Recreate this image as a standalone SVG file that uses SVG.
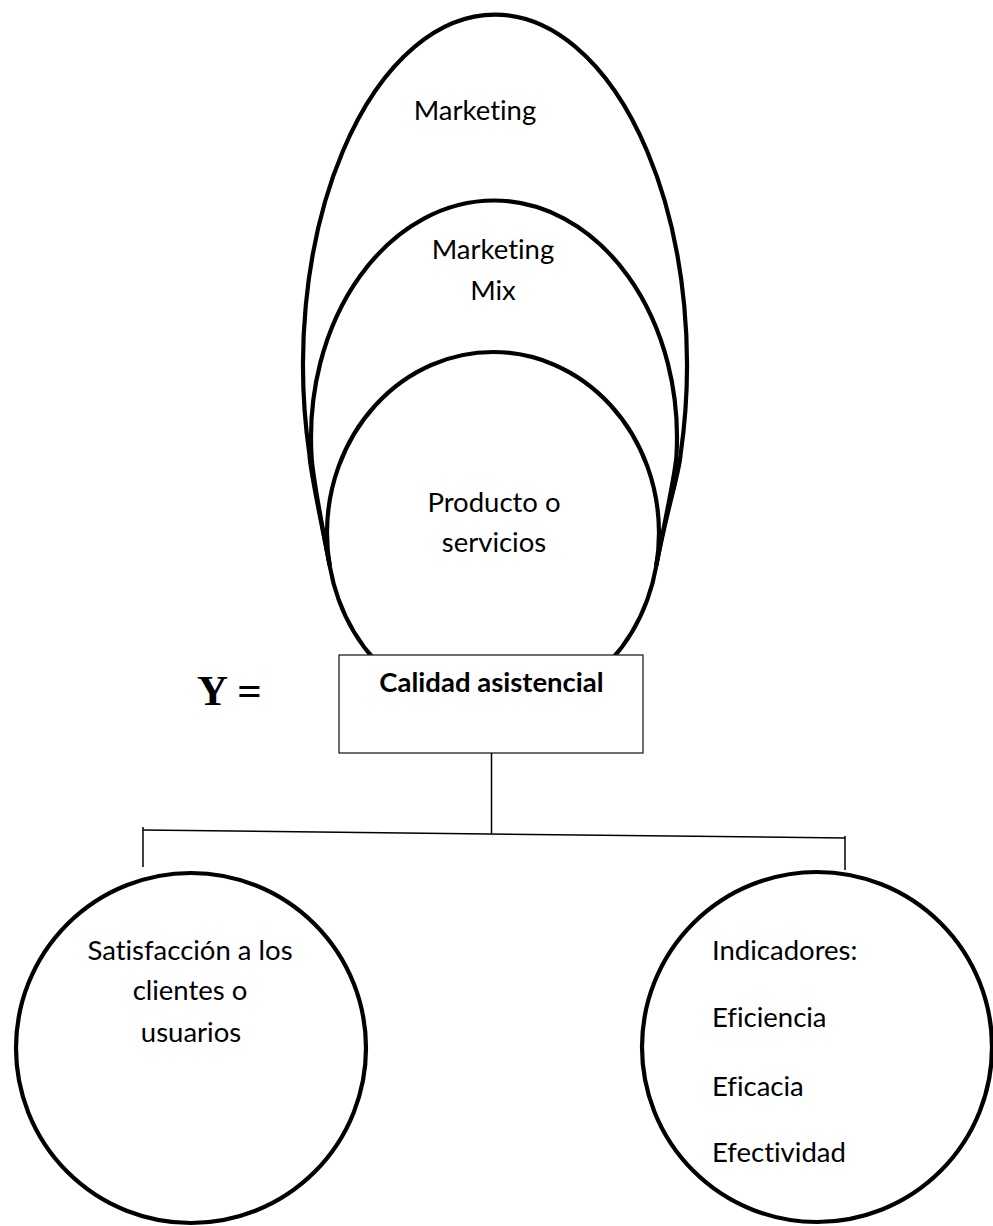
<svg xmlns="http://www.w3.org/2000/svg" width="993" height="1226" viewBox="0 0 993 1226">
<style>
.shape{fill:none;stroke:#000;stroke-width:4.2}
.circ{fill:#fff;stroke:#000;stroke-width:4.2}
.box{fill:#fff;stroke:#222;stroke-width:1.3}
.t{font-family:Lato,"Open Sans",sans-serif;font-size:27.5px;fill:#000;font-variant-ligatures:none;font-feature-settings:"liga" 0}
.c{text-anchor:middle}
.b{font-weight:bold}
.conn{fill:none;stroke:#000;stroke-width:1.5}
</style>
<rect width="993" height="1226" fill="#fff"/>
<g id="marketing">
<path class="shape" d="M329.6,565 C318,505 310,470 309.5,455 A192 350 0 1 1 680.5,455 C680,470 668,505 656.4,565"/>
<text class="t c" x="475" y="120">Marketing</text>
</g>
<g id="marketing-mix">
<path class="shape" d="M329.6,565 C318,505 312,470 311.5,455 A183 237 0 1 1 676.5,455 C676,470 668,505 656.4,565"/>
<text class="t c" x="493" y="259">Marketing</text>
<text class="t c" x="493" y="300">Mix</text>
</g>
<g id="producto">
<ellipse class="shape" cx="493" cy="533" rx="166" ry="181"/>
<text class="t c" x="494" y="512">Producto o</text>
<text class="t c" x="494" y="552">servicios</text>
</g>
<g id="calidad">
<rect class="box" x="339" y="655" width="304" height="98"/>
<text class="t c b" x="491.5" y="692">Calidad asistencial</text>
</g>
<g id="y-label">
<text x="197" y="705" font-family="'Liberation Serif',serif" font-weight="bold" font-size="43">Y =</text>
</g>
<g id="connectors">
<line class="conn" x1="491.5" y1="753" x2="491.5" y2="834"/>
<line class="conn" x1="143" y1="830" x2="845" y2="838"/>
<line class="conn" x1="143" y1="827" x2="143" y2="867"/>
<line class="conn" x1="845" y1="836" x2="845" y2="870"/>
</g>
<g id="satisfaccion">
<circle class="circ" cx="191" cy="1048" r="175"/>
<text class="t c" x="190" y="960">Satisfacción a los</text>
<text class="t c" x="190" y="1000">clientes o</text>
<text class="t c" x="191" y="1042">usuarios</text>
</g>
<g id="indicadores">
<circle class="circ" cx="817" cy="1047" r="175"/>
<text class="t" x="712" y="960">Indicadores:</text>
<text class="t" x="712" y="1027">Eficiencia</text>
<text class="t" x="712" y="1096">Eficacia</text>
<text class="t" x="712" y="1162">Efectividad</text>
</g>
</svg>
